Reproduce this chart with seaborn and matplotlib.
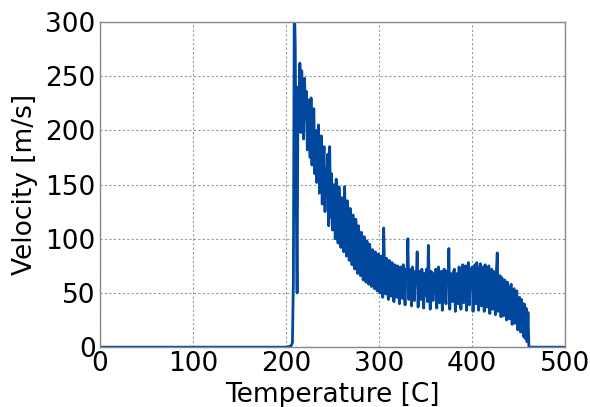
import matplotlib
matplotlib.use("Agg")
import matplotlib.pyplot as plt
import seaborn as sns
import pandas as pd

# Baseline (before onset)
temp_base = [0, 50, 100, 150, 200, 203, 205, 206, 207, 208, 209, 210, 211]
vel_base = [0, 0, 0, 0, 0, 0.5, 1, 2, 4, 60, 320, 280, 150]

# Noisy section, 1 C steps from 212 to 461
vel_noisy = [
    50, 240, 205, 262, 198, 255, 230, 192, 248, 210,
    236, 182, 228, 215, 175, 230, 168, 205, 220, 160,
    200, 152, 190, 205, 142, 176, 195, 132, 170, 185,
    125, 165, 150, 178, 112, 185, 120, 160, 108, 150,
    140, 100, 155, 118, 96, 148, 130, 92, 138, 110,
    88, 148, 120, 84, 135, 100, 80, 128, 112, 76,
    122, 95, 72, 118, 108, 68, 112, 84, 66, 106,
    96, 62, 102, 80, 60, 98, 88, 58, 95, 74,
    56, 90, 82, 54, 88, 66, 52, 86, 78, 50,
    84, 60, 46, 110, 70, 49, 82, 64, 44, 80,
    72, 47, 78, 58, 42, 76, 68, 46, 75, 55,
    40, 74, 66, 45, 76, 52, 39, 72, 64, 100,
    44, 72, 60, 38, 74, 50, 43, 70, 62, 88,
    37, 70, 55, 44, 72, 63, 36, 68, 48, 72,
    42, 94, 58, 35, 70, 62, 43, 68, 50, 72,
    36, 66, 74, 41, 58, 70, 34, 64, 72, 45,
    40, 70, 60, 91, 35, 68, 55, 42, 70, 72,
    33, 62, 68, 40, 74, 52, 35, 70, 76, 41,
    58, 75, 34, 66, 78, 39, 72, 54, 74, 33,
    64, 76, 40, 78, 58, 34, 72, 77, 38, 62,
    74, 33, 76, 56, 37, 72, 75, 31, 60, 72,
    35, 70, 52, 30, 68, 87, 33, 60, 66, 28,
    64, 50, 29, 62, 58, 25, 60, 48, 26, 55,
    58, 21, 50, 54, 22, 46, 52, 16, 42, 46,
    14, 44, 36, 10, 40, 8, 36, 5, 32, 0,
]
temp_noisy = list(range(212, 212 + len(vel_noisy)))

temp_tail = [465, 500]
vel_tail = [0, 0]

temperature = temp_base + temp_noisy + temp_tail
velocity = vel_base + vel_noisy + vel_tail

df = pd.DataFrame({"Temperature": temperature, "Velocity": velocity})

sns.set_style("white")
plt.rcParams['font.family'] = ['DejaVu Sans']
plt.rcParams['text.color'] = 'black'
plt.rcParams['axes.labelcolor'] = 'black'
plt.rcParams['xtick.color'] = 'black'
plt.rcParams['ytick.color'] = 'black'

fig = plt.figure(figsize=(5.9, 4.07), dpi=100)
ax = fig.add_axes([0.169, 0.147, 0.789, 0.799])

sns.lineplot(data=df, x="Temperature", y="Velocity", sort=False, estimator=None,
             color="#00479d", linewidth=2.0, ax=ax)

ax.set_xlim(0, 500)
ax.set_ylim(0, 300)
ax.set_xticks([0, 100, 200, 300, 400, 500])
ax.set_yticks([0, 50, 100, 150, 200, 250, 300])
ax.grid(True, linestyle=(0, (2, 2)), color="#999999", linewidth=0.8)
ax.set_axisbelow(True)
for s in ax.spines.values():
    s.set_color("#888888")
    s.set_linewidth(1.0)
ax.tick_params(axis="both", length=0, labelsize=19, pad=3, colors="black")
ax.set_xlabel("Temperature [C]", fontsize=19, labelpad=3)
ax.set_ylabel("Velocity [m/s]", fontsize=19, labelpad=5)

fig.savefig("out.png", dpi=100)
